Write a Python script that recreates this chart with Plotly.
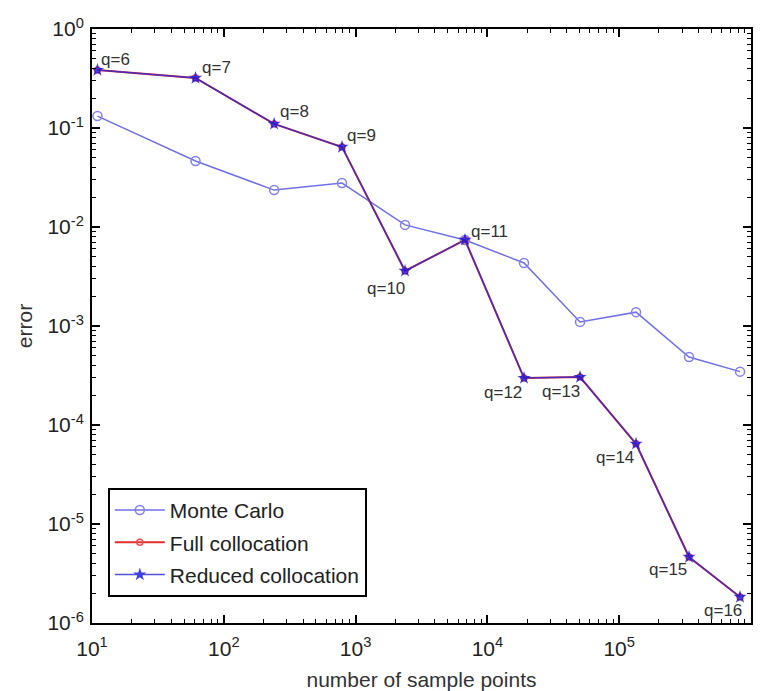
import math
import plotly.graph_objects as go

# ---- data ----
sample_points = [11, 61, 241, 789, 2371, 6760, 18960, 50460, 134200, 338700, 826000]
mc_error = [0.132, 0.0464, 0.0236, 0.0278, 0.0105, 0.0074, 0.00433, 0.0011, 0.00138, 4.86e-4, 3.46e-4]
full_error = [0.385, 0.320, 0.110, 0.0643, 0.0036, 0.0074, 2.98e-4, 3.05e-4, 6.45e-5, 4.64e-6, 1.83e-6]
reduced_error = [0.385, 0.320, 0.110, 0.0643, 0.0036, 0.0074, 2.98e-4, 3.05e-4, 6.45e-5, 4.64e-6, 1.83e-6]
q_labels = ["q=6", "q=7", "q=8", "q=9", "q=10", "q=11", "q=12", "q=13", "q=14", "q=15", "q=16"]

x_tickvals = [10, 100, 1000, 1e4, 1e5, 1e6]
x_ticktext = ["10<sup>1</sup>", "10<sup>2</sup>", "10<sup>3</sup>", "10<sup>4</sup>", "10<sup>5</sup>", "10<sup>6</sup>"]
y_tickvals = [1e-6, 1e-5, 1e-4, 1e-3, 1e-2, 1e-1, 1]
y_ticktext = ["10<sup>-6</sup>", "10<sup>-5</sup>", "10<sup>-4</sup>", "10<sup>-3</sup>", "10<sup>-2</sup>", "10<sup>-1</sup>", "10<sup>0</sup>"]

# label placement style: (xanchor, xshift, yshift)
label_style = [
    ("left", 2, 11), ("left", 4, 10), ("left", 4, 12), ("left", 3, 11),
    ("right", 2, -18), ("left", 4, 8), ("right", 0, -14), ("right", 2, -14),
    ("right", 0, -14), ("right", 0, -12), ("right", 4, -13),
]

FONT = "Liberation Sans, Arial"

fig = go.Figure()
fig.add_trace(go.Scatter(
    x=sample_points, y=mc_error, mode="lines+markers", name="Monte Carlo",
    line=dict(color="#7070e8", width=1.5),
    marker=dict(symbol="circle-open", size=9, color="#8080ee", line=dict(width=1.5)),
    legendgroup="a",
))
fig.add_trace(go.Scatter(
    x=sample_points, y=full_error, mode="lines+markers", name="Full collocation",
    line=dict(color="#e03030", width=2),
    marker=dict(symbol="circle-open", size=6, color="#e85050", line=dict(width=1.5)),
    legendgroup="b",
))
fig.add_trace(go.Scatter(
    x=sample_points, y=reduced_error, mode="lines+markers", name="Reduced collocation",
    line=dict(color="#2828d8", width=1.5), opacity=0.8,
    marker=dict(symbol="star", size=10, color="#1010e0"),
    legendgroup="c",
))

for xv, yv, txt, (xa, xs, ys) in zip(sample_points, reduced_error, q_labels, label_style):
    fig.add_annotation(
        x=math.log10(xv), y=math.log10(yv), xref="x", yref="y", text=txt, showarrow=False,
        xanchor=xa, yanchor="middle", xshift=xs, yshift=ys,
        font=dict(family=FONT, size=17, color="#333333"),
    )

axis_common = dict(
    type="log", showgrid=False, zeroline=False, showline=True, linecolor="black",
    linewidth=2, mirror="ticks", ticks="inside", ticklen=8, tickwidth=1.5, tickcolor="black",
    minor=dict(dtick="D1", ticks="inside", ticklen=4, tickcolor="black", tickwidth=1, showgrid=False),
    tickfont=dict(family=FONT, size=21, color="#222222"),
    automargin=False,
)

fig.update_layout(
    width=763, height=691,
    margin=dict(l=92, r=12, t=29, b=68),
    paper_bgcolor="white", plot_bgcolor="white",
    showlegend=True,
    legend=dict(
        x=0.024, y=0.044, xanchor="left", yanchor="bottom",
        bordercolor="black", borderwidth=2, bgcolor="white",
        font=dict(family=FONT, size=21, color="#222222"),
        tracegroupgap=2, traceorder="grouped", itemwidth=50,
    ),
    xaxis=dict(axis_common, range=[1, 6], tickvals=x_tickvals, ticktext=x_ticktext,
               ticklabelstandoff=6,
               title=dict(text="number of sample points", standoff=14,
                          font=dict(family=FONT, size=21, color="#333333"))),
    yaxis=dict(axis_common, range=[-6, 0], tickvals=y_tickvals, ticktext=y_ticktext,
               ticklabelstandoff=2,
               title=dict(text="error", standoff=9,
                          font=dict(family=FONT, size=21, color="#333333"))),
)

fig.write_html("out.html")
